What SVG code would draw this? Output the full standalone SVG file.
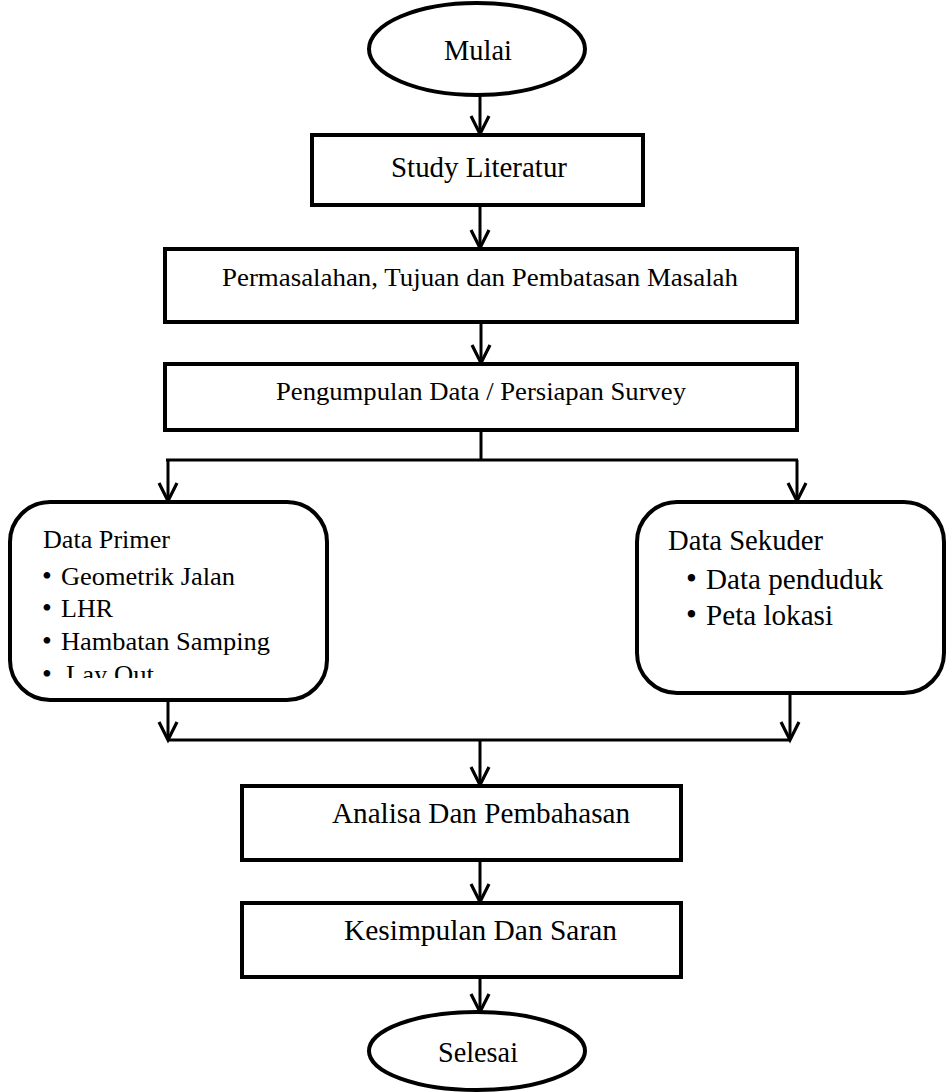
<svg xmlns="http://www.w3.org/2000/svg" width="946" height="1092" viewBox="0 0 946 1092">
<style>
.box{fill:#fff;stroke:#000;stroke-width:4}
.ln{fill:none;stroke:#000;stroke-width:3}
.t{font-family:"Liberation Serif","Times New Roman",serif;fill:#000}
.big{font-size:29px}
.mid{font-size:26px}
.sm{font-size:25px}
.sk{font-size:29px}
.bp{font-size:28px}
.bs{font-size:31px}
</style>
<defs>
<marker id="arr" viewBox="-20 -12 24 24" markerWidth="24" markerHeight="24" refX="0" refY="0" orient="auto" markerUnits="userSpaceOnUse">
<path d="M-18,-9 L0,0 L-18,9" fill="none" stroke="#000" stroke-width="3.2" stroke-linejoin="miter"/>
</marker>
<clipPath id="clipP"><rect x="10" y="502" width="317" height="176"/></clipPath>
</defs>
<rect width="946" height="1092" fill="#fff"/>

<g id="connectors">
<line class="ln" x1="480" y1="95" x2="480" y2="134" marker-end="url(#arr)"/>
<line class="ln" x1="480" y1="206" x2="480" y2="248" marker-end="url(#arr)"/>
<line class="ln" x1="481" y1="312" x2="481" y2="363" marker-end="url(#arr)"/>
<polyline class="ln" points="481,431 481,460"/>
<line class="ln" x1="166" y1="460" x2="798" y2="460"/>
<line class="ln" x1="168" y1="460" x2="168" y2="501" marker-end="url(#arr)"/>
<line class="ln" x1="797" y1="460" x2="797" y2="501" marker-end="url(#arr)"/>
<line class="ln" x1="168" y1="701" x2="168" y2="740" marker-end="url(#arr)"/>
<line class="ln" x1="790" y1="694" x2="790" y2="740" marker-end="url(#arr)"/>
<line class="ln" x1="168" y1="740" x2="790" y2="740"/>
<line class="ln" x1="480" y1="740" x2="480" y2="785" marker-end="url(#arr)"/>
<line class="ln" x1="480" y1="861" x2="480" y2="902" marker-end="url(#arr)"/>
<line class="ln" x1="480" y1="979" x2="480" y2="1012" marker-end="url(#arr)"/>
</g>

<g id="mulai">
<ellipse class="box" cx="477" cy="49" rx="108" ry="46"/>
<text class="t big" x="478" y="60" text-anchor="middle" textLength="68" lengthAdjust="spacingAndGlyphs">Mulai</text>
</g>

<g id="study">
<rect class="box" x="312" y="135" width="331" height="70"/>
<text class="t big" x="479" y="177" text-anchor="middle" textLength="176" lengthAdjust="spacingAndGlyphs">Study Literatur</text>
</g>

<g id="permasalahan">
<rect class="box" x="165" y="249" width="632" height="73"/>
<text class="t mid" x="222" y="286" textLength="516" lengthAdjust="spacingAndGlyphs">Permasalahan, Tujuan dan Pembatasan Masalah</text>
</g>

<g id="pengumpulan">
<rect class="box" x="165" y="364" width="632" height="66"/>
<text class="t mid" x="276" y="400" textLength="410" lengthAdjust="spacingAndGlyphs">Pengumpulan Data / Persiapan Survey</text>
</g>

<g id="data-primer">
<rect class="box" x="10" y="502" width="317" height="198" rx="40" ry="40"/>
<g clip-path="url(#clipP)">
<text class="t sm" x="43" y="548" textLength="127" lengthAdjust="spacingAndGlyphs">Data Primer</text>
<text class="t sm" y="585"><tspan class="bp" x="42">•</tspan><tspan x="61" textLength="174" lengthAdjust="spacingAndGlyphs">Geometrik Jalan</tspan></text>
<text class="t sm" y="617"><tspan class="bp" x="42">•</tspan><tspan x="61" textLength="52" lengthAdjust="spacingAndGlyphs">LHR</tspan></text>
<text class="t sm" y="650"><tspan class="bp" x="42">•</tspan><tspan x="61" textLength="209" lengthAdjust="spacingAndGlyphs">Hambatan Samping</tspan></text>
<text class="t sm" y="683"><tspan class="bp" x="42">•</tspan><tspan x="66" textLength="88" lengthAdjust="spacingAndGlyphs">Lay Out</tspan></text>
</g>
</g>

<g id="data-sekuder">
<rect class="box" x="637" y="502" width="307" height="191" rx="40" ry="40"/>
<text class="t sk" x="668" y="550" textLength="155" lengthAdjust="spacingAndGlyphs">Data Sekuder</text>
<text class="t sk" y="589"><tspan class="bs" x="686">•</tspan><tspan x="706" textLength="177" lengthAdjust="spacingAndGlyphs">Data penduduk</tspan></text>
<text class="t sk" y="625"><tspan class="bs" x="686">•</tspan><tspan x="706" textLength="127" lengthAdjust="spacingAndGlyphs">Peta lokasi</tspan></text>
</g>

<g id="analisa">
<rect class="box" x="242" y="786" width="439" height="74"/>
<text class="t big" x="332" y="823" textLength="298" lengthAdjust="spacingAndGlyphs">Analisa Dan Pembahasan</text>
</g>

<g id="kesimpulan">
<rect class="box" x="242" y="903" width="439" height="74"/>
<text class="t big" x="344" y="940" textLength="273" lengthAdjust="spacingAndGlyphs">Kesimpulan Dan Saran</text>
</g>

<g id="selesai">
<ellipse class="box" cx="477" cy="1051" rx="108" ry="39"/>
<text class="t big" x="478" y="1062" text-anchor="middle" textLength="80" lengthAdjust="spacingAndGlyphs">Selesai</text>
</g>
</svg>
